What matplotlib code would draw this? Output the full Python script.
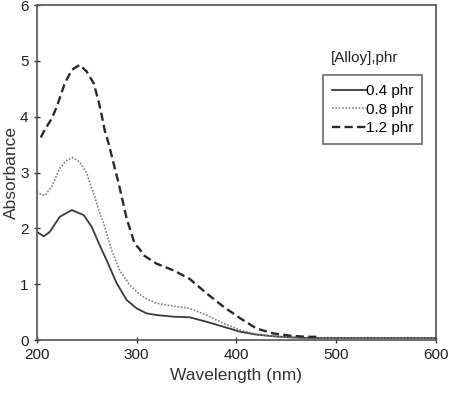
import matplotlib
matplotlib.use("Agg")
import matplotlib.pyplot as plt

plt.rcParams['font.family'] = ['Liberation Sans', 'DejaVu Sans']

wl_04 = [200, 207, 213, 223, 235, 247, 255, 263, 270, 280, 290, 300, 310, 320, 337, 353, 370, 387, 404, 420, 437, 454, 470, 600]
abs_04 = [1.94, 1.86, 1.94, 2.21, 2.33, 2.24, 2.03, 1.70, 1.43, 1.02, 0.72, 0.57, 0.48, 0.45, 0.42, 0.41, 0.33, 0.24, 0.15, 0.10, 0.07, 0.05, 0.04, 0.04]

wl_08 = [200, 203, 208, 215, 223, 230, 236, 243, 250, 255, 258, 262, 267, 275, 283, 293, 303, 310, 320, 337, 353, 370, 387, 404, 420, 437, 454, 470, 600]
abs_08 = [2.66, 2.62, 2.59, 2.75, 3.08, 3.22, 3.27, 3.19, 2.99, 2.72, 2.57, 2.33, 2.09, 1.61, 1.25, 0.99, 0.82, 0.74, 0.66, 0.61, 0.57, 0.45, 0.30, 0.18, 0.11, 0.07, 0.05, 0.04, 0.04]

wl_12 = [204, 208, 215, 220, 228, 235, 243, 250, 257, 262, 265, 268, 272, 277, 282, 290, 298, 303, 307, 320, 337, 353, 370, 387, 404, 420, 437, 454, 470, 482]
abs_12 = [3.63, 3.77, 3.97, 4.18, 4.60, 4.84, 4.93, 4.81, 4.60, 4.27, 4.03, 3.76, 3.52, 3.16, 2.81, 2.18, 1.73, 1.63, 1.52, 1.37, 1.25, 1.10, 0.84, 0.60, 0.39, 0.21, 0.12, 0.08, 0.06, 0.06]

labels = ['0.4 phr', '0.8 phr', '1.2 phr']
x_ticks = [200, 300, 400, 500, 600]
y_ticks = [0, 1, 2, 3, 4, 5, 6]

fig = plt.figure(figsize=(4.49, 3.96), dpi=100)
ax = fig.add_axes([0.082, 0.141, 0.889, 0.846])

ax.plot(wl_04, abs_04, color='#3a3a3a', lw=1.3, ls='-', label=labels[0])
ax.plot(wl_08, abs_08, color='#808080', lw=1.2, ls=(0, (1, 1)), label=labels[1])
ax.plot(wl_12, abs_12, color='#2a2a2a', lw=1.7, ls=(0, (3.5, 1.8)), label=labels[2])

ax.set_xlim(200, 600)
ax.set_ylim(0, 6)
ax.set_xticks(x_ticks)
ax.set_yticks(y_ticks)
ax.tick_params(direction='inout', length=5, width=1, colors='#333333', labelsize=11, labelcolor='#222222')
for s in ax.spines.values():
    s.set_color('#555555')
    s.set_linewidth(1.2)

ax.set_xlabel('Wavelength (nm)', fontsize=12.5, color='#333333', labelpad=4)
ax.set_ylabel('Absorbance', fontsize=12.5, color='#333333', labelpad=1)

leg = ax.legend(loc='upper left', bbox_to_anchor=(0.717, 0.792), frameon=True, fancybox=False,
                edgecolor='#444444', fontsize=11, handlelength=2.2, handletextpad=0.0,
                borderpad=0.6, labelspacing=0.3, borderaxespad=0)
leg.get_frame().set_linewidth(1.2)
ax.text(0.82, 0.842, '[Alloy],phr', transform=ax.transAxes, ha='center', va='center',
        fontsize=11, color='#222222')

fig.savefig('out.png', dpi=100)
